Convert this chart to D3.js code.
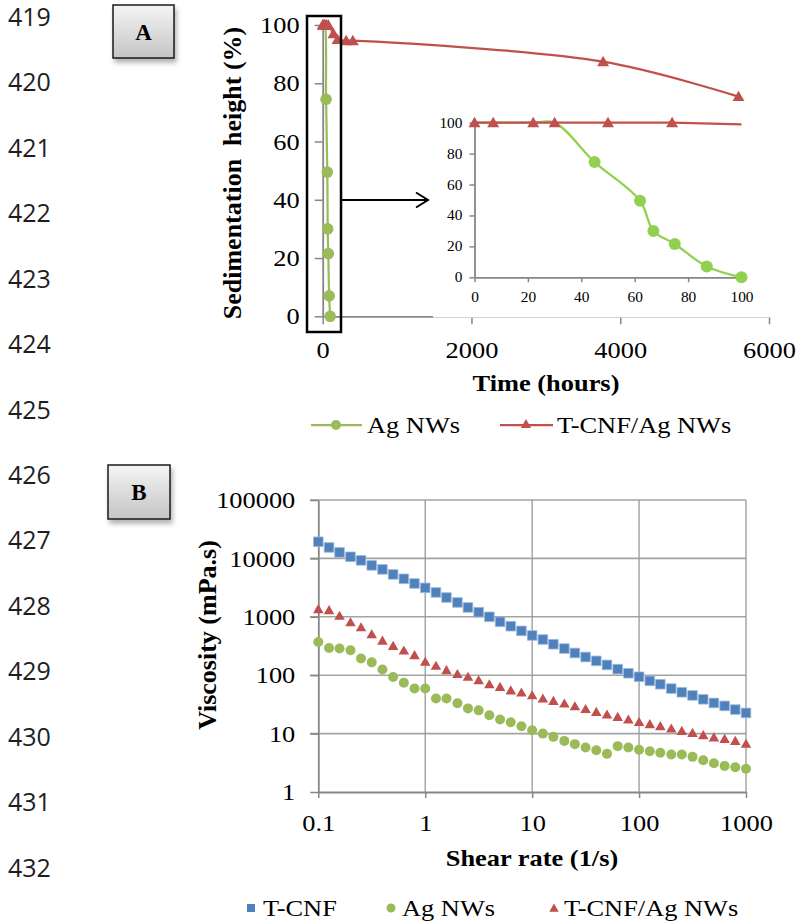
<!DOCTYPE html>
<html>
<head>
<meta charset="utf-8">
<script src="https://cdn.jsdelivr.net/npm/d3@7"></script>
<style>
    body { margin: 0; background: #fff; }
    svg { display: block; }
</style>
</head>
<body>
<svg id="fig" width="798" height="923"></svg>
<script>
// panel A: sedimentation height vs time
const timeAg = [0, 7, 22, 30, 45, 62, 67, 75, 87, 100];
const sedAg = [100, 100, 100, 100, 74.5, 49.5, 30, 21.5, 7, 0];
const timeComp = [0, 7, 22, 30, 50, 74, 145, 200, 315, 405, 3770, 5590];
const sedComp = [100, 100, 100, 100, 100, 100, 97, 95, 94.6, 94.6, 87.4, 75.4];
const timeTicks = [0, 2000, 4000, 6000];
const sedTicks = [0, 20, 40, 60, 80, 100];
const insetTicks = [0, 20, 40, 60, 80, 100];

// panel B: viscosity vs shear rate
const shear = [0.1, 0.126, 0.158, 0.2, 0.251, 0.316, 0.398, 0.501, 0.631, 0.794,
    1, 1.26, 1.58, 2, 2.51, 3.16, 3.98, 5.01, 6.31, 7.94,
    10, 12.6, 15.8, 20, 25.1, 31.6, 39.8, 50.1, 63.1, 79.4,
    100, 126, 158, 200, 251, 316, 398, 501, 631, 794, 1000];
const viscTCNF = [19270, 15400, 12670, 10660, 9250, 7590, 6480, 5320, 4470, 3720,
    3130, 2610, 2140, 1760, 1445, 1200, 1000, 820, 690, 574,
    479, 408, 339, 286, 240, 205, 176, 150, 127, 108,
    94, 80, 70, 59, 51, 45, 38.7, 33.5, 29.8, 25.8, 22.6];
const viscAg = [371, 293, 286, 268, 193, 166, 125, 93, 74, 59,
    59, 40, 40, 33, 27, 25, 20.6, 17.4, 15.6, 13.4,
    11.4, 10, 8.8, 7.5, 6.6, 5.8, 5.2, 4.5, 6.1, 5.8,
    5.3, 5.0, 4.7, 4.4, 4.4, 4.0, 3.5, 3.1, 2.8, 2.65, 2.5];
const viscComp = [1350, 1300, 1040, 808, 662, 503, 391, 317, 264, 220,
    170, 145, 122, 105, 94, 82, 70, 63, 55, 50.5,
    45.4, 39.8, 36.3, 32.7, 29.4, 26.4, 23.5, 21.2, 19.3, 17.4,
    15.8, 14.5, 13.4, 12.2, 11.1, 10.3, 9.4, 8.6, 8.1, 7.5, 6.7];
const shearTicks = [0.1, 1, 10, 100, 1000];
const viscTicks = [1, 10, 100, 1000, 10000, 100000];

const lineNumbers = [419, 420, 421, 422, 423, 424, 425, 426, 427, 428, 429, 430, 431, 432];

const green = '#9bbb59';
const greenInset = '#92d050';
const red = '#c0504d';
const blue = '#4f81bd';
const axisGray = '#868686';
const serif = '"Liberation Serif", "Times New Roman", serif';
const k = 1.1; // the figure is a little wider than tall

const svg = d3.select('#fig');
const defs = svg.append('defs');

const grad = defs.append('linearGradient').attr('id', 'boxGrad')
    .attr('x1', 0).attr('y1', 0).attr('x2', 0).attr('y2', 1);
grad.append('stop').attr('offset', '0%').attr('stop-color', '#f5f5f5');
grad.append('stop').attr('offset', '100%').attr('stop-color', '#c4c4c4');

defs.append('filter').attr('id', 'shadow')
    .attr('x', '-20%').attr('y', '-20%').attr('width', '150%').attr('height', '160%')
    .append('feDropShadow')
    .attr('dx', 2).attr('dy', 4).attr('stdDeviation', 2.5)
    .attr('flood-color', '#000').attr('flood-opacity', 0.3);

defs.append('clipPath').attr('id', 'insetClip')
    .append('rect').attr('x', 474.5).attr('y', 112).attr('width', 267).attr('height', 175);

function stretch(sel) {
    sel.each(function () {
        const t = d3.select(this);
        const x = +t.attr('x') || 0;
        t.attr('transform', `translate(${x},0) scale(${k},1) translate(${-x},0)`);
    });
}

function styleAxis(g, size) {
    g.attr('font-family', serif).attr('font-size', size);
    g.select('.domain').attr('stroke', axisGray).attr('stroke-width', 1.8);
    g.selectAll('.tick line').attr('stroke', axisGray).attr('stroke-width', 1.5);
    g.selectAll('.tick text')
        .attr('font-family', serif)
        .attr('font-size', size)
        .attr('fill', '#000');
}

// line numbers down the left margin
const yNum = d3.scaleLinear().domain([419, 432]).range([17, 868]);
svg.append('g').selectAll('text')
    .data(lineNumbers)
    .enter()
    .append('text')
    .attr('x', 8)
    .attr('y', d => yNum(d))
    .attr('dy', '0.35em')
    .attr('font-family', '"Open Sans", "Noto Sans", sans-serif')
    .attr('font-size', 25)
    .attr('fill', '#1e1e1e')
    .text(d => d);

function labelBox(x, y, w, h, txt) {
    const g = svg.append('g');
    g.append('rect')
        .attr('x', x).attr('y', y).attr('width', w).attr('height', h)
        .attr('fill', 'url(#boxGrad)')
        .attr('stroke', '#1a1a1a').attr('stroke-width', 1.5)
        .attr('filter', 'url(#shadow)');
    g.append('text')
        .attr('font-family', serif)
        .attr('x', x + w / 2).attr('y', y + h / 2)
        .attr('dy', '0.35em')
        .attr('text-anchor', 'middle')
        .attr('font-weight', 'bold')
        .attr('font-size', 23)
        .text(txt);
}

labelBox(113, 5, 61, 53, 'A');
labelBox(108, 465, 62, 54, 'B');

// ---------- panel A ----------
const xA = d3.scaleLinear().domain([0, 6000]).range([322.7, 769]);
const yA = d3.scaleLinear().domain([0, 100]).range([316.3, 25]);

const yAxisA = svg.append('g')
    .attr('transform', `translate(${xA(0)},0)`)
    .call(d3.axisLeft(yA).tickValues(sedTicks).tickSize(8).tickSizeOuter(0));
styleAxis(yAxisA, 24);
yAxisA.selectAll('.tick text').attr('x', -23);
stretch(yAxisA.selectAll('.tick text'));

const xAxisA = svg.append('g')
    .attr('transform', `translate(0,${yA(0)})`)
    .call(d3.axisBottom(xA).tickValues(timeTicks).tickFormat(d => String(d)).tickSize(8).tickSizeOuter(0));
styleAxis(xAxisA, 24);
xAxisA.selectAll('.tick text').attr('y', 33).attr('dy', '0.35em');
stretch(xAxisA.selectAll('.tick text'));

const agRows = timeAg.map((t, i) => ({ t: t, v: sedAg[i] }));
const compRows = timeComp.map((t, i) => ({ t: t, v: sedComp[i] }));

const lineA = d3.line()
    .x(d => xA(d.t))
    .y(d => yA(d.v))
    .curve(d3.curveCatmullRom.alpha(0.5));

const triBig = d3.symbol().type(d3.symbolTriangle).size(62);

svg.append('path')
    .datum(agRows)
    .attr('d', lineA)
    .attr('fill', 'none')
    .attr('stroke', green)
    .attr('stroke-width', 2.25);

// the points at 100 sit underneath the composite's triangles
svg.append('g').selectAll('circle')
    .data(agRows.filter(d => d.v < 100))
    .enter()
    .append('circle')
    .attr('cx', d => xA(d.t))
    .attr('cy', d => yA(d.v))
    .attr('r', 5.8)
    .attr('fill', green);

svg.append('path')
    .datum(compRows)
    .attr('d', lineA)
    .attr('fill', 'none')
    .attr('stroke', red)
    .attr('stroke-width', 2.25);

svg.append('g').selectAll('path')
    .data(compRows)
    .enter()
    .append('path')
    .attr('d', triBig)
    .attr('transform', d => `translate(${xA(d.t)},${yA(d.v) + 1})`)
    .attr('fill', red);

svg.append('text')
    .attr('font-family', serif)
    .attr('transform', 'translate(232,173) rotate(-90)')
    .attr('text-anchor', 'middle')
    .attr('dy', '0.35em')
    .attr('font-weight', 'bold')
    .attr('font-size', 26)
    .style('white-space', 'pre')
    .text('Sedimentation  height (%)');

const timeTitle = svg.append('text')
    .attr('font-family', serif)
    .attr('x', 546).attr('y', 383)
    .attr('dy', '0.35em')
    .attr('text-anchor', 'middle')
    .attr('font-weight', 'bold')
    .attr('font-size', 24)
    .text('Time (hours)');
stretch(timeTitle);

// inset, zoom on the first 100 hours
const xI = d3.scaleLinear().domain([0, 100]).range([474.5, 741.5]);
const yI = d3.scaleLinear().domain([0, 100]).range([277.3, 122.7]);

svg.append('rect')
    .attr('x', 433).attr('y', 108).attr('width', 357).attr('height', 209.5)
    .attr('fill', '#fff');

const yAxisI = svg.append('g')
    .attr('transform', `translate(${xI(0)},0)`)
    .call(d3.axisLeft(yI).tickValues(insetTicks).tickSize(5).tickSizeOuter(0));
styleAxis(yAxisI, 14);
yAxisI.selectAll('.tick text').attr('x', -12);
stretch(yAxisI.selectAll('.tick text'));

const xAxisI = svg.append('g')
    .attr('transform', `translate(0,${yI(0)})`)
    .call(d3.axisBottom(xI).tickValues(insetTicks).tickSize(5).tickSizeOuter(0));
styleAxis(xAxisI, 14);
xAxisI.selectAll('.tick text').attr('y', 19.5).attr('dy', '0.35em');
stretch(xAxisI.selectAll('.tick text'));

const lineI = d3.line()
    .x(d => xI(d.t))
    .y(d => yI(d.v))
    .curve(d3.curveCatmullRom.alpha(0.5));

svg.append('path')
    .datum(agRows)
    .attr('d', lineI)
    .attr('clip-path', 'url(#insetClip)')
    .attr('fill', 'none')
    .attr('stroke', greenInset)
    .attr('stroke-width', 2.25);

svg.append('g').selectAll('circle')
    .data(agRows.filter(d => d.v < 100))
    .enter()
    .append('circle')
    .attr('cx', d => xI(d.t))
    .attr('cy', d => yI(d.v))
    .attr('r', 6)
    .attr('fill', greenInset);

svg.append('path')
    .datum(compRows)
    .attr('d', lineI)
    .attr('clip-path', 'url(#insetClip)')
    .attr('fill', 'none')
    .attr('stroke', red)
    .attr('stroke-width', 2.25);

svg.append('g').selectAll('path')
    .data(compRows.filter(d => d.t <= 100))
    .enter()
    .append('path')
    .attr('d', triBig)
    .attr('transform', d => `translate(${xI(d.t)},${yI(d.v) + 1})`)
    .attr('fill', red);

// frame around the first 100 hours and the arrow to the inset
svg.append('rect')
    .attr('x', 307).attr('y', 16).attr('width', 34).attr('height', 316)
    .attr('fill', 'none')
    .attr('stroke', '#000')
    .attr('stroke-width', 2.5);

svg.append('line')
    .attr('x1', 341).attr('y1', 200).attr('x2', 427).attr('y2', 200)
    .attr('stroke', '#000').attr('stroke-width', 2);
svg.append('path')
    .attr('d', 'M416,192.5 L428,200 L416,207.5')
    .attr('fill', 'none')
    .attr('stroke', '#000').attr('stroke-width', 2);

// legend A
const legA = svg.append('g');
legA.append('line').attr('x1', 311).attr('x2', 362).attr('y1', 425).attr('y2', 425)
    .attr('stroke', green).attr('stroke-width', 2.25);
legA.append('circle').attr('cx', 336).attr('cy', 425).attr('r', 5).attr('fill', green);
legA.append('line').attr('x1', 500).attr('x2', 553).attr('y1', 425).attr('y2', 425)
    .attr('stroke', red).attr('stroke-width', 2.25);
legA.append('path').attr('d', d3.symbol().type(d3.symbolTriangle).size(45))
    .attr('transform', 'translate(526,425)').attr('fill', red);
legA.selectAll('text')
    .data([{ x: 367, t: 'Ag NWs' }, { x: 557, t: 'T-CNF/Ag NWs' }])
    .enter()
    .append('text')
    .attr('font-family', serif)
    .attr('x', d => d.x).attr('y', 425)
    .attr('dy', '0.35em')
    .attr('font-size', 24)
    .text(d => d.t);
stretch(legA.selectAll('text'));

// ---------- panel B ----------
const xB = d3.scaleLog().domain([0.1, 1000]).range([318.3, 746]);
const yB = d3.scaleLog().domain([1, 100000]).range([792, 500]);

svg.append('g').selectAll('line')
    .data(viscTicks.slice(1))
    .enter()
    .append('line')
    .attr('x1', 310).attr('x2', xB(1000))
    .attr('y1', d => yB(d)).attr('y2', d => yB(d))
    .attr('stroke', '#a3a3a3').attr('stroke-width', 1.6);

svg.append('g').selectAll('line')
    .data(shearTicks.slice(1))
    .enter()
    .append('line')
    .attr('x1', d => xB(d)).attr('x2', d => xB(d))
    .attr('y1', yB(100000)).attr('y2', yB(1))
    .attr('stroke', '#999').attr('stroke-width', 1.3);

const yAxisB = svg.append('g')
    .attr('transform', `translate(${xB(0.1)},0)`)
    .call(d3.axisLeft(yB).tickValues(viscTicks).tickFormat(d => String(d)).tickSize(8).tickSizeOuter(0));
styleAxis(yAxisB, 24);
yAxisB.selectAll('.tick text').attr('x', -23);
stretch(yAxisB.selectAll('.tick text'));

const xAxisB = svg.append('g')
    .attr('transform', `translate(0,${yB(1)})`)
    .call(d3.axisBottom(xB).tickValues(shearTicks).tickFormat(d => String(d)).tickSize(6).tickSizeOuter(0));
styleAxis(xAxisB, 24);
xAxisB.selectAll('.tick text').attr('y', 31).attr('dy', '0.35em');
stretch(xAxisB.selectAll('.tick text'));

const rowsB = arr => shear.map((s, i) => ({ s: s, v: arr[i] }));

svg.append('g').selectAll('path')
    .data(rowsB(viscTCNF))
    .enter()
    .append('path')
    .attr('d', d3.symbol().type(d3.symbolSquare).size(92))
    .attr('transform', d => `translate(${xB(d.s)},${yB(d.v)})`)
    .attr('fill', blue)
    .attr('stroke', '#9db7dc')
    .attr('stroke-width', 0.8);

svg.append('g').selectAll('circle')
    .data(rowsB(viscAg))
    .enter()
    .append('circle')
    .attr('cx', d => xB(d.s))
    .attr('cy', d => yB(d.v))
    .attr('r', 5)
    .attr('fill', green);

svg.append('g').selectAll('path')
    .data(rowsB(viscComp))
    .enter()
    .append('path')
    .attr('d', d3.symbol().type(d3.symbolTriangle).size(48))
    .attr('transform', d => `translate(${xB(d.s)},${yB(d.v) + 1})`)
    .attr('fill', red);

svg.append('text')
    .attr('font-family', serif)
    .attr('transform', 'translate(207,635) rotate(-90)')
    .attr('text-anchor', 'middle')
    .attr('dy', '0.35em')
    .attr('font-weight', 'bold')
    .attr('font-size', 26)
    .text('Viscosity (mPa.s)');

const shearTitle = svg.append('text')
    .attr('font-family', serif)
    .attr('x', 532).attr('y', 858)
    .attr('dy', '0.35em')
    .attr('text-anchor', 'middle')
    .attr('font-weight', 'bold')
    .attr('font-size', 24)
    .text('Shear rate (1/s)');
stretch(shearTitle);

// legend B
const legB = svg.append('g');
legB.append('path').attr('d', d3.symbol().type(d3.symbolSquare).size(64))
    .attr('transform', 'translate(251,908)').attr('fill', blue);
legB.append('circle').attr('cx', 391).attr('cy', 908).attr('r', 4.5).attr('fill', green);
legB.append('path').attr('d', d3.symbol().type(d3.symbolTriangle).size(38))
    .attr('transform', 'translate(554,909)').attr('fill', red);
legB.selectAll('text')
    .data([{ x: 263, t: 'T-CNF' }, { x: 402, t: 'Ag NWs' }, { x: 564, t: 'T-CNF/Ag NWs' }])
    .enter()
    .append('text')
    .attr('font-family', serif)
    .attr('x', d => d.x).attr('y', 908)
    .attr('dy', '0.35em')
    .attr('font-size', 24)
    .text(d => d.t);
stretch(legB.selectAll('text'));
</script>
</body>
</html>
